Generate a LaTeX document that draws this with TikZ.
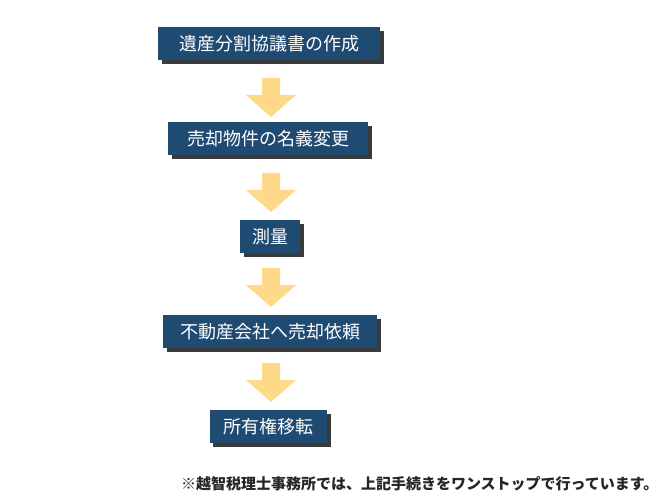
\documentclass[tikz,border=0pt]{standalone}
\usepackage{fontspec}
\newfontfamily\cjk{Noto Sans CJK JP}
\definecolor{boxc}{HTML}{1F4A72}
\definecolor{arrc}{HTML}{FFD98A}
\definecolor{shd}{HTML}{3A3A3A}
\tikzset{
 stepbox/.style={fill=boxc,text=white,font=\cjk\fontsize{18}{18}\selectfont,inner xsep=0pt,minimum height=33pt,anchor=north}
}
\newcommand{\flowbox}[5]{% name, x, y, width, text
 \node[stepbox,minimum width=#4pt] (#1) at (#2,#3) {#5};
 \begin{scope}[on background layer]
 \fill[shd] ([xshift=4pt,yshift=-4pt]#1.north west) rectangle ([xshift=4pt,yshift=-4pt]#1.south east);
 \end{scope}}
\newcommand{\downarr}[2]{% x center, top y
 \fill[arrc] (#1-9,#2) -- (#1+9,#2) -- (#1+9,#2+17) -- (#1+25,#2+17) -- (#1,#2+39) -- (#1-25,#2+17) -- (#1-9,#2+17) -- cycle;}
\usetikzlibrary{backgrounds}
\begin{document}
\begin{tikzpicture}[x=1pt,y=-1pt]
\useasboundingbox (0,0) rectangle (670,500);
\flowbox{a}{269}{27}{222}{遺産分割協議書の作成}
\flowbox{b}{268}{122}{200}{売却物件の名義変更}
\flowbox{c}{270}{220}{60}{測量}
\flowbox{d}{270}{315}{214}{不動産会社へ売却依頼}
\flowbox{e}{268}{410}{117}{所有権移転}
\downarr{271}{78}
\downarr{271}{173}
\downarr{271}{268}
\downarr{271}{363}
\node[anchor=east,font=\cjk\bfseries\fontsize{15}{15}\selectfont,text=black!85] (n) at (662,484) {※越智税理士事務所では、上記手続きをワンストップで行っています。};
\end{tikzpicture}
\end{document}
